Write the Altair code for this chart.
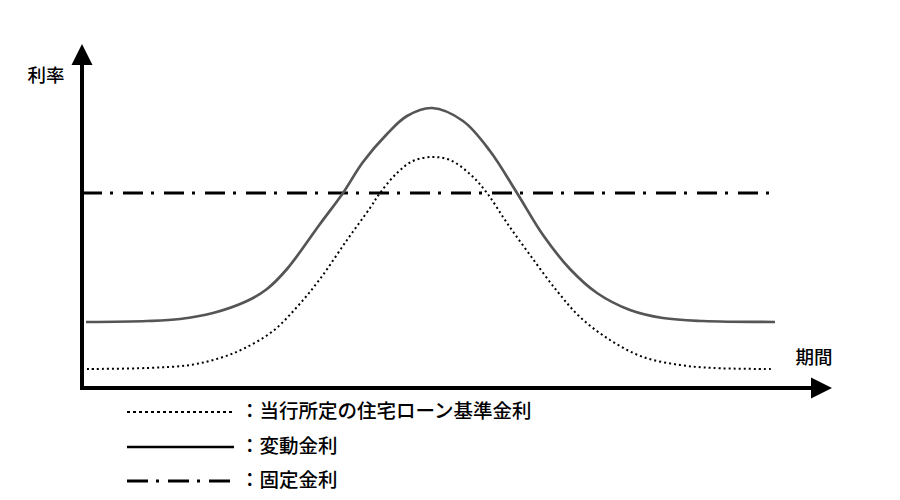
import altair as alt
import pandas as pd

# Curve data (period on x, rate on y; arbitrary units, origin at the axes corner)
period_solid = [4, 65, 98, 131, 165, 185, 205, 238, 261, 281, 305, 325, 350,
                381, 408, 435, 461, 488, 515, 548, 581, 621, 693]
rate_solid = [66, 67, 69, 75, 87, 99, 119, 164, 195, 226, 254, 272, 280,
              267, 237, 195, 153, 119, 95, 78, 70, 67, 66]

period_dot = [5, 65, 108, 138, 163, 191, 215, 238, 265, 288, 298, 315, 331, 350,
              368, 388, 405, 425, 448, 475, 498, 528, 561, 598, 631, 691]
rate_dot = [19, 20, 23, 30, 40, 57, 81, 109, 148, 180, 195, 215, 227, 231,
            228, 214, 195, 165, 133, 97, 71, 48, 31, 23, 20, 19]

period_fixed = [0, 696]
rate_fixed = [195, 195]

# Axis extents (arrow tips)
x_axis_end = 750
y_axis_end = 344
axis_labels = ["利率", "期間"]
axis_label_x = [-36, 732]
axis_label_y = [312, 30]

# Legend
legend_labels = ["：当行所定の住宅ローン基準金利", "：変動金利", "：固定金利"]
legend_y = [-24, -59, -93]
legend_x0 = 45
legend_x1 = 152
legend_text_x = 158

X_DOM = [-74, 810]
Y_DOM = [-104, 380]
xs = alt.Scale(domain=X_DOM, nice=False, zero=False)
ys = alt.Scale(domain=Y_DOM, nice=False, zero=False)

def X(f="x"):
    return alt.X(f"{f}:Q", scale=xs, axis=None)

def Y(f="y"):
    return alt.Y(f"{f}:Q", scale=ys, axis=None)

FONT = "Noto Sans CJK JP"

solid_df = pd.DataFrame({"x": period_solid, "y": rate_solid})
dot_df = pd.DataFrame({"x": period_dot, "y": rate_dot})
fixed_df = pd.DataFrame({"x": period_fixed, "y": rate_fixed})

solid = alt.Chart(solid_df).mark_line(
    color="#555555", strokeWidth=2.7, interpolate="catmull-rom"
).encode(x=X(), y=Y())

dotted = alt.Chart(dot_df).mark_line(
    color="#000000", strokeWidth=2, strokeDash=[2, 3], interpolate="catmull-rom"
).encode(x=X(), y=Y())

fixed = alt.Chart(fixed_df).mark_line(
    color="#000000", strokeWidth=3, strokeDash=[20, 8, 3, 10]
).encode(x=X(), y=Y())

# Axes
yaxis_df = pd.DataFrame({"x": [0], "y": [0], "y2": [y_axis_end - 14]})
xaxis_df = pd.DataFrame({"x": [0], "x2": [x_axis_end - 14], "y": [0]})
yaxis = alt.Chart(yaxis_df).mark_rule(color="black", strokeWidth=4, strokeCap="square").encode(
    x=X(), y=Y(), y2="y2:Q")
xaxis = alt.Chart(xaxis_df).mark_rule(color="black", strokeWidth=4, strokeCap="square").encode(
    x=X(), x2="x2:Q", y=Y())

up_df = pd.DataFrame({"x": [0], "y": [y_axis_end]})
right_df = pd.DataFrame({"x": [x_axis_end], "y": [0]})
up_arrow = alt.Chart(up_df).mark_point(
    shape="M0,0L1,2L-1,2Z", size=441, filled=True, color="black", opacity=1, strokeWidth=0
).encode(x=X(), y=Y())
right_arrow = alt.Chart(right_df).mark_point(
    shape="M0,0L-2,-1L-2,1Z", size=441, filled=True, color="black", opacity=1, strokeWidth=0
).encode(x=X(), y=Y())

lab_df = pd.DataFrame({"x": axis_label_x, "y": axis_label_y, "t": axis_labels})
axis_text = alt.Chart(lab_df).mark_text(
    font=FONT, fontSize=18.5, fontWeight=500, color="black", align="center", baseline="middle"
).encode(x=X(), y=Y(), text="t:N")

# Legend
leg_df = pd.DataFrame({
    "x": [legend_x0] * 3, "x2": [legend_x1] * 3, "y": legend_y,
    "tx": [legend_text_x] * 3, "t": legend_labels,
})
leg_dot = alt.Chart(leg_df.iloc[[0]]).mark_rule(color="black", strokeWidth=2, strokeDash=[3, 3]).encode(
    x=X(), x2="x2:Q", y=Y())
leg_solid = alt.Chart(leg_df.iloc[[1]]).mark_rule(color="black", strokeWidth=2.5).encode(
    x=X(), x2="x2:Q", y=Y())
leg_fixed = alt.Chart(leg_df.iloc[[2]]).mark_rule(color="black", strokeWidth=3, strokeDash=[21, 8, 3, 9]).encode(
    x=X(), x2="x2:Q", y=Y())
leg_text = alt.Chart(leg_df).mark_text(
    font=FONT, fontSize=19.5, fontWeight=500, color="black", align="left", baseline="middle"
).encode(x=X("tx"), y=Y(), text="t:N")

chart = alt.layer(
    fixed, solid, dotted, yaxis, xaxis, up_arrow, right_arrow, axis_text,
    leg_dot, leg_solid, leg_fixed, leg_text
).properties(
    width=884, height=484, padding=0, autosize=alt.AutoSizeParams(type="none"),
    background="white"
).configure_view(stroke=None)

chart.save("out.html", embed_options={"renderer": "svg", "actions": False})
